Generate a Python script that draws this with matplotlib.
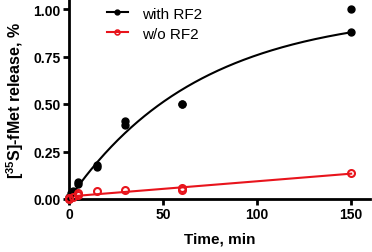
import numpy as np
import matplotlib
matplotlib.use('Agg')
import matplotlib.pyplot as plt

plt.rcParams['font.family'] = ['Liberation Sans', 'DejaVu Sans']
plt.rcParams['mathtext.fontset'] = 'custom'
plt.rcParams['mathtext.rm'] = 'Liberation Sans'
plt.rcParams['mathtext.bf'] = 'Liberation Sans:bold'

# with RF2 (duplicate measurements)
t_with = [0, 0, 1, 2, 5, 5, 15, 15, 30, 30, 60, 60, 150, 150]
y_with = [0.00, 0.01, 0.03, 0.04, 0.08, 0.09, 0.17, 0.18, 0.39, 0.41, 0.50, 0.50, 0.88, 1.00]

# without RF2
t_wo = [0, 0, 2, 5, 5, 15, 30, 60, 60, 150]
y_wo = [0.00, 0.005, 0.01, 0.02, 0.03, 0.04, 0.045, 0.05, 0.06, 0.135]

# single-exponential fit shown in the figure: A * (1 - exp(-k t))
fit_A = 0.99
fit_k = 0.0145

xticks = [0, 50, 100, 150]
yticks = [0, 0.25, 0.5, 0.75, 1.0]

slope = np.polyfit(t_wo, y_wo, 1)

fig = plt.figure(figsize=(3.72, 2.53), dpi=100)
ax = fig.add_axes([69 / 372, 53 / 253, 301 / 372, 199.5 / 253])

tt = np.linspace(0, 150, 300)
ax.plot(tt, fit_A * (1 - np.exp(-fit_k * tt)), color='black', lw=1.5, clip_on=False)
ax.plot(tt, np.polyval(slope, tt), color='#e8141c', lw=1.5, clip_on=False)

ax.plot(t_with, y_with, 'o', color='black', ms=5, clip_on=False, zorder=5)
ax.plot(t_wo, y_wo, 'o', mfc='none', mec='#e8141c', mew=1.5, ms=5, clip_on=False, zorder=5)

# legend handles
h1, = ax.plot([], [], '-o', color='black', ms=3.5, lw=1.5)
h2, = ax.plot([], [], '-o', color='#e8141c', mfc='none', mew=1.2, ms=3.5, lw=1.5)
ax.legend([h1, h2], ['with RF2', 'w/o RF2'], loc='upper left',
          bbox_to_anchor=(96 / 372, 1.0 + 3 / 253), bbox_transform=fig.transFigure,
          frameon=False, fontsize=11, handlelength=1.4, labelspacing=0.4,
          handletextpad=0.9, borderpad=0.2)

ax.set_xlim(0, 160)
ax.set_ylim(0, 1.05)
ax.set_xticks(xticks)
ax.set_yticks(yticks)
ax.set_yticklabels(['%.2f' % v for v in yticks])
for s in ['top', 'right']:
    ax.spines[s].set_visible(False)
for s in ['left', 'bottom']:
    ax.spines[s].set_linewidth(2)
ax.tick_params(width=2, length=4, labelsize=10, pad=2)
for lab in ax.get_xticklabels() + ax.get_yticklabels():
    lab.set_fontweight('bold')

ax.set_xlabel('Time, min', fontsize=11, fontweight='bold', labelpad=7)
ax.set_ylabel(r'[$^{\mathbf{35}}$S]-fMet release, %', fontsize=11.5, fontweight='bold', labelpad=5)

fig.savefig('out.png', dpi=100)
